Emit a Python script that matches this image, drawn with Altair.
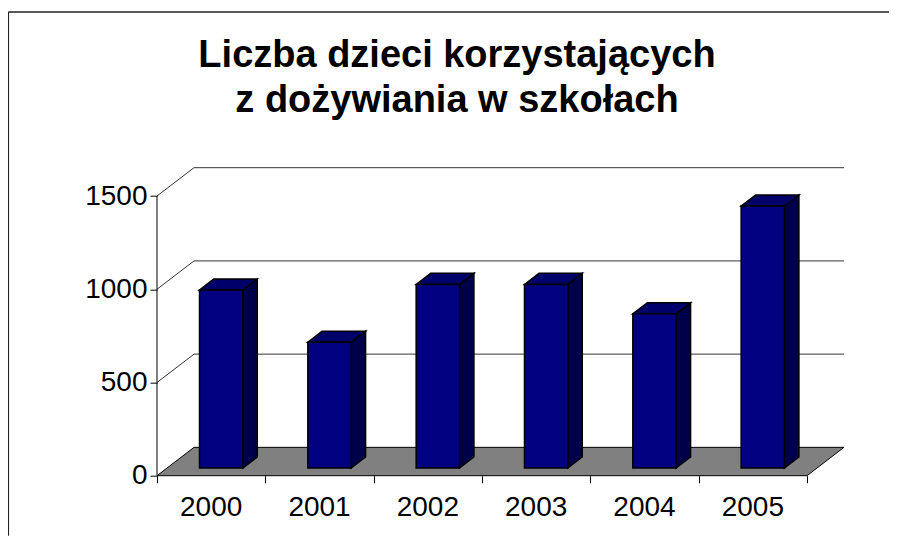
import altair as alt
import pandas as pd

years = ["2000", "2001", "2002", "2003", "2004", "2005"]
values = [955, 675, 985, 985, 827, 1405]
y_ticks = [0, 500, 1000, 1500]
title_lines = ["Liczba dzieci korzystających", "z dożywiania w szkołach"]

# oblique 3-D projection parameters (depth shift in data units)
DX = 0.3416   # depth shift along x, in category units
DY = 152.0    # depth shift along y, in value units
F0, F1 = 0.27, 0.66   # bar front / back depth fraction
B0, B1 = 0.3, 0.7     # bar left / right inside its category band
N = len(years)
FONT = "Liberation Sans"

xs = alt.Scale(domain=[0, N + DX], nice=False, zero=False)
ys = alt.Scale(domain=[0, 1500 + DY], nice=False, zero=False)

# ---- derived tables ----
front = pd.DataFrame({
    "year": years,
    "xl": [i + B0 + F0 * DX for i in range(N)],
    "xr": [i + B1 + F0 * DX for i in range(N)],
    "yb": [F0 * DY] * N,
    "yt": [F0 * DY + v for v in values],
})
side_rows, top_rows = [], []
for i, (yr, v) in enumerate(zip(years, values)):
    for f in (F0, F1):
        side_rows.append({"year": yr, "x": i + B1 + f * DX, "y": f * DY + v, "y2": f * DY})
        top_rows.append({"year": yr, "y": f * DY + v, "x": i + B0 + f * DX, "x2": i + B1 + f * DX})
side = pd.DataFrame(side_rows)
top = pd.DataFrame(top_rows)

floor = pd.DataFrame({"y": [0, DY], "x": [0, DX], "x2": [N, N + DX]})
grid_rows = []
for v in y_ticks[1:]:
    grid_rows.append({"x": DX, "x2": N + DX, "y": v + DY, "y2": v + DY})
    grid_rows.append({"x": 0, "x2": DX, "y": v, "y2": v + DY})
grid = pd.DataFrame(grid_rows)
axis_df = pd.DataFrame({"x": [0], "y": [0], "y2": [1500]})
labels = pd.DataFrame({"year": years, "x": [i + 0.5 for i in range(N)], "y": [0] * N})
one = pd.DataFrame({"k": [0]})

# ---- layers ----
floor_l = alt.Chart(floor).mark_area(orient="horizontal", fill="#808080", stroke="#000", strokeWidth=1).encode(
    y=alt.Y("y:Q", scale=ys, axis=None),
    x=alt.X("x:Q", scale=xs, axis=None, stack=None),
    x2="x2:Q",
)
grid_l = alt.Chart(grid).mark_rule(color="#333", strokeWidth=1).encode(
    x=alt.X("x:Q", scale=xs, axis=None), x2="x2:Q",
    y=alt.Y("y:Q", scale=ys, axis=None), y2="y2:Q",
)
axis_l = alt.Chart(axis_df).mark_rule(color="#000", strokeWidth=1).encode(
    x=alt.X("x:Q", scale=xs, axis=alt.Axis(values=list(range(N + 1)), labels=False, domain=False,
                                         grid=False, ticks=True, tickSize=7, tickColor="#000",
                                         tickWidth=1, title=None)),
    y=alt.Y("y:Q", scale=ys, axis=alt.Axis(values=y_ticks, format="d", domain=False, grid=False,
                                         tickSize=7, tickColor="#000", tickWidth=1,
                                         labelFont=FONT, labelFontSize=28, labelColor="#000",
                                         labelPadding=3, title=None)),
    y2="y2:Q",
)
side_l = alt.Chart(side).mark_area(fill="#00004A", stroke="#000", strokeWidth=1.5).encode(
    x=alt.X("x:Q", scale=xs, axis=None),
    y=alt.Y("y:Q", scale=ys, axis=None, stack=None), y2="y2:Q",
    detail="year:N",
)
top_l = alt.Chart(top).mark_area(orient="horizontal", fill="#00006B", stroke="#000", strokeWidth=1.5).encode(
    y=alt.Y("y:Q", scale=ys, axis=None),
    x=alt.X("x:Q", scale=xs, axis=None, stack=None), x2="x2:Q",
    detail="year:N",
)
front_l = alt.Chart(front).mark_rect(fill="#000080", stroke="#000", strokeWidth=1.5).encode(
    x=alt.X("xl:Q", scale=xs, axis=None), x2="xr:Q",
    y=alt.Y("yb:Q", scale=ys, axis=None), y2="yt:Q",
)
label_l = alt.Chart(labels).mark_text(font=FONT, fontSize=28, color="#000", align="center",
                                      baseline="alphabetic", dy=40.7).encode(
    x=alt.X("x:Q", scale=xs, axis=None),
    y=alt.Y("y:Q", scale=ys, axis=None),
    text="year:N",
)
title1 = alt.Chart(one).mark_text(font=FONT, fontSize=38, fontWeight="bold", color="#000",
                                  align="center", baseline="alphabetic").encode(
    x=alt.value(300), y=alt.value(-101), text=alt.value(title_lines[0]))
title2 = alt.Chart(one).mark_text(font=FONT, fontSize=38, fontWeight="bold", color="#000",
                                  align="center", baseline="alphabetic").encode(
    x=alt.value(300), y=alt.value(-56), text=alt.value(title_lines[1]))
# chart frame: only its top and left edges fall inside the window
frame_top = alt.Chart(one).mark_rule(color="#222", strokeWidth=1.5).encode(
    x=alt.value(-148.7), x2=alt.value(732), y=alt.value(-155.7), y2=alt.value(-155.7))
frame_left = alt.Chart(one).mark_rule(color="#222", strokeWidth=1.5).encode(
    x=alt.value(-148.7), x2=alt.value(-148.7), y=alt.value(-155.7), y2=alt.value(368))

chart = alt.layer(
    floor_l, grid_l, axis_l, side_l, top_l, front_l, label_l, title1, title2, frame_top, frame_left
).resolve_axis(x="independent", y="independent").properties(
    width=687, height=308,
    autosize=alt.AutoSizeParams(type="none"),
    padding={"left": 149, "top": 159.7, "right": 45, "bottom": 60},
).configure_view(stroke=None)

chart.save("out.html", embed_options={"renderer": "svg", "actions": False})
